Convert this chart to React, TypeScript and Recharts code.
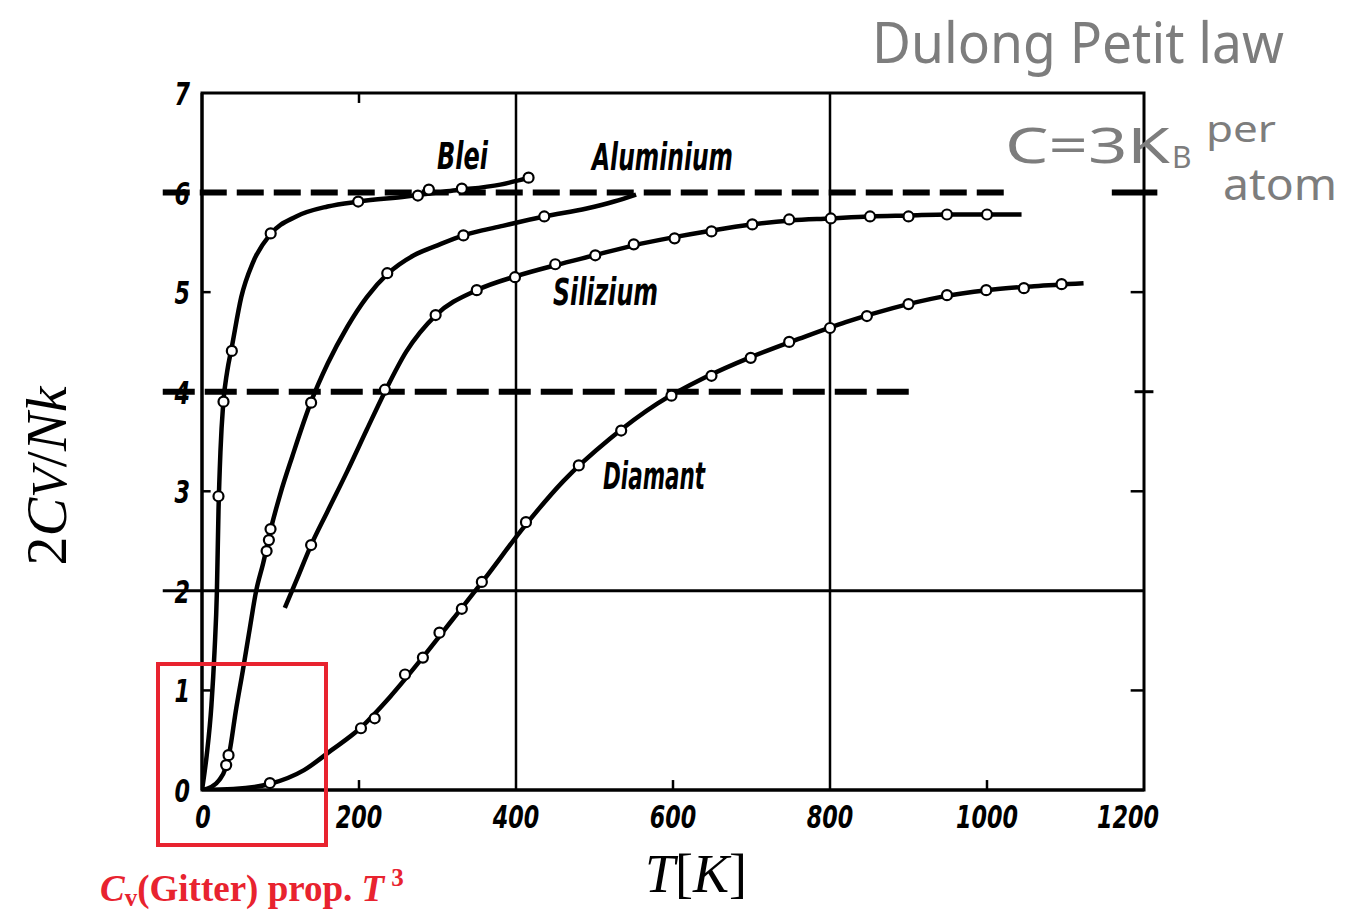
import React from 'react';
import {
  ComposedChart,
  Line,
  Scatter,
  XAxis,
  YAxis,
  ReferenceLine,
  ReferenceArea,
} from 'recharts';

type Pt = [number, number];

const xTicks = [0, 200, 400, 600, 800, 1000, 1200];
const yTicks = [0, 1, 2, 3, 4, 5, 6, 7];
const innerXTicks = [200, 600, 1000];
const innerYTicks = [1, 3, 5];
const gridX = [400, 800];

// measured points (circles), [T in K, 2Cv/Nk]
const bleiPoints: Pt[] = [
  [21, 2.95], [27.4, 3.9], [38, 4.41], [87.5, 5.59], [199, 5.91],
  [275, 5.97], [289, 6.03], [331, 6.04], [416, 6.15],
];
const aluPoints: Pt[] = [
  [30.8, 0.25], [33.8, 0.35], [82.3, 2.4], [85.2, 2.51], [87.3, 2.62],
  [139, 3.89], [236, 5.19], [333, 5.57], [436, 5.76],
];
const siliPoints: Pt[] = [
  [139, 2.46], [233, 4.02], [297.6, 4.77], [350, 5.02], [398.7, 5.15],
  [450, 5.28], [501, 5.37], [550, 5.48], [602, 5.54], [649, 5.61],
  [701, 5.68], [748, 5.73], [801, 5.74], [851, 5.76], [900, 5.76],
  [949, 5.78], [1000, 5.78],
];
const diamPoints: Pt[] = [
  [86.5, 0.07], [202.5, 0.62], [220, 0.72], [258.6, 1.16], [281.4, 1.33],
  [302.5, 1.58], [331, 1.82], [356.5, 2.09], [412.7, 2.69], [480, 3.26],
  [534, 3.61], [598, 3.96], [649, 4.16], [699, 4.34], [748, 4.5],
  [800, 4.64], [847, 4.76], [900, 4.88], [949, 4.97], [999, 5.02],
  [1047, 5.04], [1095, 5.08],
];

// the smooth drawn curves
const bleiCurve: Pt[] = [
  [0, 0], [6, 0.35], [12, 0.85], [16, 1.4], [19, 2.0], [21, 2.8], [23.5, 3.4],
  [27, 3.88], [32, 4.2], [38, 4.45], [50, 4.95], [65, 5.3], [87, 5.58],
  [120, 5.76], [160, 5.86], [200, 5.91], [260, 5.96], [320, 6.02],
  [380, 6.08], [417, 6.15],
];
const aluCurve: Pt[] = [
  [0, 0], [12, 0.03], [22, 0.1], [30, 0.22], [35, 0.38], [43, 0.79],
  [52, 1.2], [60, 1.58], [69, 2.0], [78, 2.28], [87, 2.6], [100, 2.98],
  [115, 3.35], [139, 3.9], [160, 4.28], [185, 4.65], [210, 4.95],
  [236, 5.18], [270, 5.37], [300, 5.47], [333, 5.57], [380, 5.66],
  [436, 5.76], [490, 5.84], [525, 5.91], [553, 5.98],
];
const siliCurve: Pt[] = [
  [105.5, 1.83], [120, 2.1], [139, 2.46], [160, 2.8], [185, 3.2],
  [210, 3.62], [233, 4.0], [260, 4.4], [298, 4.77], [350, 5.02],
  [400, 5.16], [450, 5.27], [500, 5.37], [550, 5.47], [600, 5.55],
  [650, 5.62], [700, 5.68], [750, 5.72], [800, 5.74], [850, 5.76],
  [900, 5.77], [950, 5.78], [1044, 5.78],
];
const diamCurve: Pt[] = [
  [0, 0], [40, 0.01], [86, 0.06], [130, 0.2], [165, 0.4], [200, 0.61],
  [240, 0.94], [280, 1.32], [320, 1.72], [360, 2.12], [410, 2.64],
  [460, 3.1], [520, 3.53], [580, 3.88], [640, 4.14], [700, 4.35],
  [760, 4.53], [820, 4.7], [880, 4.84], [940, 4.95], [1000, 5.02],
  [1060, 5.06], [1123, 5.09],
];

// Dulong-Petit levels (dashed) and the solid line at 2
const level6: Pt[] = [[-50, 6], [1025, 6]];
const level6Tail: Pt[] = [[1159, 6], [1217, 6]];
const level4: Pt[] = [[-50, 4], [910, 4]];
const level4Tail: Pt[] = [[1188, 4], [1212, 4]];
const level2: Pt[] = [[-50, 2], [1200, 2]];

const toRows = (pts: Pt[]) => pts.map(([T, v]) => ({ T, v }));
const seg = (pts: Pt[]) => pts.map(([x, y]) => ({ x, y }));

const scanFont = '"Liberation Sans Narrow", "DejaVu Sans Condensed", "Arial Narrow", sans-serif';
const serif = '"Liberation Serif", "DejaVu Serif", serif';

const XTick = (props: any) => {
  const { x, y, payload } = props;
  const label = String(payload.value);
  const dx = payload.value === 1200 ? -16 : payload.value === 0 ? 1 : 0;
  return (
    <text
      x={x + dx}
      y={y}
      dy={30}
      textAnchor="middle"
      fontFamily={scanFont}
      fontStyle="italic"
      fontWeight="bold"
      fontSize={32}
      fill="#000"
      textLength={label.length * 15.5}
      lengthAdjust="spacingAndGlyphs"
    >
      {label}
    </text>
  );
};

const YTick = (props: any) => {
  const { x, y, payload } = props;
  return (
    <text
      x={x - 4}
      y={y}
      dy={12}
      textAnchor="end"
      fontFamily={scanFont}
      fontStyle="italic"
      fontWeight="bold"
      fontSize={32}
      fill="#000"
      textLength={15.5}
      lengthAdjust="spacingAndGlyphs"
    >
      {payload.value}
    </text>
  );
};

const Ring = (props: any) => (
  <circle cx={props.cx} cy={props.cy} r={5} fill="#fff" stroke="#000" strokeWidth={2.2} />
);

const series = [
  { name: 'Blei', points: bleiPoints, curve: bleiCurve },
  { name: 'Aluminium', points: aluPoints, curve: aluCurve },
  { name: 'Silizium', points: siliPoints, curve: siliCurve },
  { name: 'Diamant', points: diamPoints, curve: diamCurve },
];

const labelStyle = {
  fontFamily: scanFont,
  fontStyle: 'italic' as const,
  fontWeight: 'bold' as const,
  fontSize: 37,
  fill: '#000',
};

const hand = {
  fontFamily: '"Noto Sans", "Open Sans", sans-serif',
  fill: '#7d7d7d',
  fontWeight: 400 as const,
};

const red = '#e8232f';

export default function App() {
  return (
    <div style={{ position: 'absolute', left: 0, top: 0, width: 1352, height: 912, background: '#fff' }}>
      <ComposedChart
        width={1352}
        height={912}
        margin={{ top: 93, right: 208, bottom: 92, left: 152 }}
      >
        <XAxis
          type="number"
          dataKey="T"
          domain={[0, 1200]}
          ticks={xTicks}
          interval={0}
          height={30}
          tickLine={false}
          axisLine={{ stroke: '#000', strokeWidth: 3 }}
          tick={<XTick />}
          allowDataOverflow
        />
        <YAxis
          type="number"
          dataKey="v"
          domain={[0, 7]}
          ticks={yTicks}
          interval={0}
          width={50}
          tickLine={false}
          axisLine={{ stroke: '#000', strokeWidth: 3 }}
          tick={<YTick />}
          allowDataOverflow
        />
        <ReferenceArea x1={0} x2={1200} y1={0} y2={7} fill="none" stroke="#000" strokeWidth={3} ifOverflow="visible" />
        {gridX.map((t) => (
          <ReferenceLine key={`g${t}`} x={t} stroke="#000" strokeWidth={2.5} />
        ))}
        <ReferenceLine segment={seg(level2)} stroke="#000" strokeWidth={3} ifOverflow="visible" />
        {innerXTicks.map((t) => (
          <ReferenceLine key={`b${t}`} segment={[{ x: t, y: 0 }, { x: t, y: 0.1 }]} stroke="#000" strokeWidth={2.5} />
        ))}
        <ReferenceLine segment={[{ x: 200, y: 7 }, { x: 200, y: 6.9 }]} stroke="#000" strokeWidth={2.5} />
        {innerYTicks.map((v) => (
          <ReferenceLine key={`l${v}`} segment={[{ x: 0, y: v }, { x: 11, y: v }]} stroke="#000" strokeWidth={2.5} />
        ))}
        {innerYTicks.map((v) => (
          <ReferenceLine key={`r${v}`} segment={[{ x: 1183, y: v }, { x: 1200, y: v }]} stroke="#000" strokeWidth={2.5} />
        ))}
        <ReferenceLine segment={seg(level6)} stroke="#000" strokeWidth={6} strokeDasharray="27 10" ifOverflow="visible" />
        <ReferenceLine segment={seg(level6Tail)} stroke="#000" strokeWidth={6} ifOverflow="visible" />
        <ReferenceLine segment={seg(level4)} stroke="#000" strokeWidth={6} strokeDasharray="32 10" ifOverflow="visible" />
        <ReferenceLine segment={seg(level4Tail)} stroke="#000" strokeWidth={3} ifOverflow="visible" />
        {series.map((s) => (
          <Line
            key={s.name}
            data={toRows(s.curve)}
            dataKey="v"
            type="monotone"
            stroke="#000"
            strokeWidth={4.5}
            dot={false}
            activeDot={false}
            isAnimationActive={false}
          />
        ))}
        {series.map((s) => (
          <Scatter
            key={`p${s.name}`}
            data={toRows(s.points)}
            dataKey="v"
            shape={<Ring />}
            isAnimationActive={false}
          />
        ))}
      </ComposedChart>

      <svg
        width={1352}
        height={912}
        style={{ position: 'absolute', left: 0, top: 0, pointerEvents: 'none' }}
      >
        <text x={437} y={169} textLength={51} lengthAdjust="spacingAndGlyphs" {...labelStyle}>Blei</text>
        <text x={592} y={170} textLength={141} lengthAdjust="spacingAndGlyphs" {...labelStyle}>Aluminium</text>
        <text x={553} y={305} textLength={105} lengthAdjust="spacingAndGlyphs" {...labelStyle}>Silizium</text>
        <text x={603} y={489} textLength={102} lengthAdjust="spacingAndGlyphs" {...labelStyle}>Diamant</text>

        <text x={872} y={63} fontSize={56} textLength={412} lengthAdjust="spacingAndGlyphs" {...hand}>Dulong Petit law</text>
        <text x={1005} y={163} fontSize={50} textLength={165} lengthAdjust="spacingAndGlyphs" {...hand}>C=3K</text>
        <text x={1172} y={168} fontSize={30} {...hand}>B</text>
        <text x={1206} y={142} fontSize={36} textLength={70} lengthAdjust="spacingAndGlyphs" {...hand}>per</text>
        <text x={1223} y={200} fontSize={44} textLength={114} lengthAdjust="spacingAndGlyphs" {...hand}>atom</text>

        <text
          transform="translate(66 476) rotate(-90)"
          textAnchor="middle"
          fontFamily={serif}
          fontSize={58}
          fill="#000"
        >
          <tspan>2</tspan>
          <tspan fontStyle="italic">C</tspan>
          <tspan fontStyle="italic" fontSize={50}>V</tspan>
          <tspan>/</tspan>
          <tspan fontStyle="italic">Nk</tspan>
        </text>

        <text x={645} y={892} fontFamily={serif} fontSize={54} fill="#000">
          <tspan fontStyle="italic">T</tspan>
          <tspan>[</tspan>
          <tspan fontStyle="italic">K</tspan>
          <tspan>]</tspan>
        </text>

        <rect x={158} y={664} width={168} height={181} fill="none" stroke={red} strokeWidth={4} />

        <text x={100} y={901} fontFamily={serif} fontSize={37} fontWeight="bold" fill={red}>
          <tspan fontStyle="italic">C</tspan>
          <tspan fontSize={25} dy={5}>v</tspan>
          <tspan dy={-5}>(Gitter) prop. </tspan>
          <tspan fontStyle="italic">T</tspan>
          <tspan fontSize={25} dy={-15} dx={7}>3</tspan>
        </text>
      </svg>
    </div>
  );
}
